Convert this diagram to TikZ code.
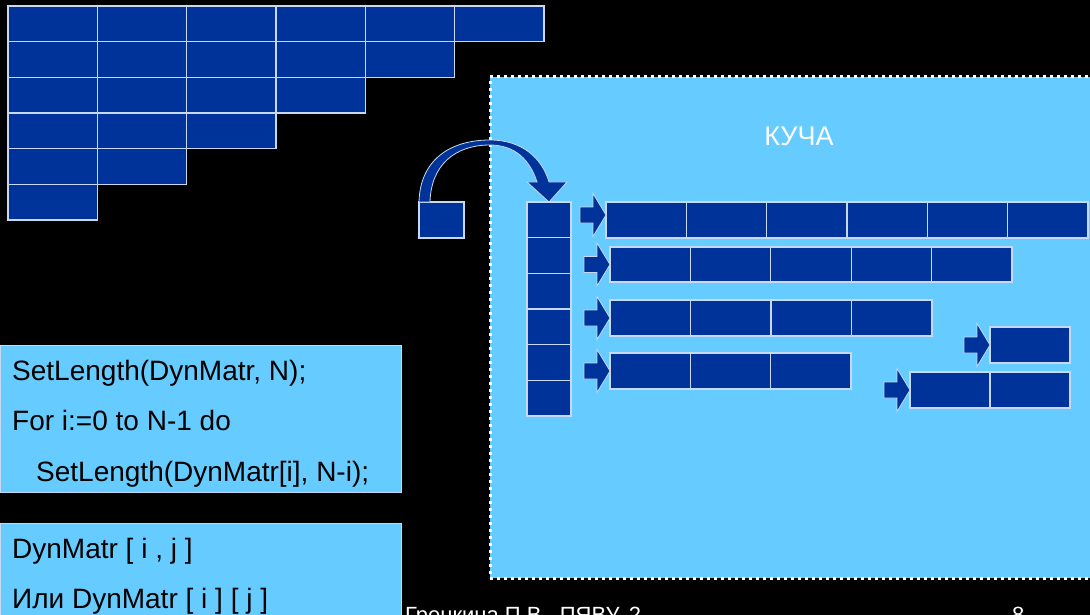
\documentclass[tikz,border=0pt]{standalone}
\usepackage{fontspec}
\setmainfont{Liberation Sans}
\usetikzlibrary{calc}
\definecolor{dblue}{HTML}{003399}
\definecolor{lblue}{HTML}{66CCFF}
\definecolor{cellline}{HTML}{C8D8F0}
\tikzset{
  cell/.style={draw=cellline, fill=dblue, line width=1.2pt, inner sep=0pt, outer sep=0pt},
  codebox/.style={draw=cellline, fill=lblue, line width=0.8pt, inner sep=0pt, outer sep=0pt, anchor=north west},
  codetext/.style={anchor=base west, inner sep=0pt, text=black, font=\fontsize{28}{32}\selectfont},
  heapbox/.style={fill=lblue, draw=white, line width=3pt, dash pattern=on 3pt off 4pt, inner sep=0pt, outer sep=0pt, anchor=north west},
  blockarrow/.pic={\fill[dblue, draw=cellline, line width=0.8pt] (-26,-8) -- (-13,-8) -- (-13,-21.5) -- (0,0) -- (-13,21.5) -- (-13,8) -- (-26,8) -- cycle;},
}
\begin{document}
\begin{tikzpicture}[x=1pt, y=-1pt]
\fill[black] (0,0) rectangle (1090,615);
\useasboundingbox (0,0) rectangle (1090,615);
% triangular grid
\foreach \r in {0,...,5} {
  \pgfmathtruncatemacro\n{5-\r}
  \foreach \c in {0,...,\n} {
    \node[cell, minimum width=89.33, minimum height=35.67] (g\r\c) at ({8+89.33*\c+44.67}, {6+35.67*\r+17.83}) {};
  }
}
% heap
\node[heapbox, minimum width=612, minimum height=501] (heap) at (490,77) {};
\node[text=white, font=\fontsize{27}{30}\selectfont, inner sep=0pt] (kucha) at (799,136) {КУЧА};
% pointer box
\node[cell, minimum width=45, minimum height=36] (ptr) at (441.5,220) {};
% column of row pointers
\foreach \r in {0,...,5} {
  \node[cell, minimum width=44, minimum height=35.67] (col\r) at (549, {202+35.67*\r+17.83}) {};
}
% curved arrow from ptr to column
\fill[dblue, draw=cellline, line width=0.8pt]
  (ptr.north west) .. controls (420,160) and (450,140) .. (490,140)
  .. controls (522,140) and (542,158) .. (549,182) -- (567,182) -- (col0.north) -- (527,182) -- (537,182)
  .. controls (530,160) and (515,145) .. (490,145)
  .. controls (455,145) and (431,165) .. ($(ptr.north west)+(11,0)$) -- cycle;
% rows in heap
\foreach \c in {0,...,5} {\node[cell, minimum width=80.33, minimum height=36] (a\c) at ({606+80.33*\c+40.17}, 220) {};}
\foreach \c in {0,...,4} {\node[cell, minimum width=80.4, minimum height=35] (b\c) at ({610+80.4*\c+40.2}, 264.5) {};}
\foreach \c in {0,...,3} {\node[cell, minimum width=80.5, minimum height=36] (c\c) at ({610+80.5*\c+40.25}, 318) {};}
\foreach \c in {0,...,2} {\node[cell, minimum width=80.33, minimum height=36] (d\c) at ({610+80.33*\c+40.17}, 371) {};}
\node[cell, minimum width=80, minimum height=36] (e0) at (1030,345) {};
\foreach \c in {0,...,1} {\node[cell, minimum width=80, minimum height=36] (f\c) at ({910+80*\c+40}, 390) {};}
% block arrows
\pic at ($(a0.west)+(0,-5)$) {blockarrow};
\pic at (b0.west) {blockarrow};
\pic at (c0.west) {blockarrow};
\pic at (d0.west) {blockarrow};
\pic at (e0.west) {blockarrow};
\pic at (f0.west) {blockarrow};
% code boxes
\node[codebox, minimum width=401, minimum height=147] (code1) at (0,345) {};
\node[codetext] (l1) at (12,380) {SetLength(DynMatr, N);};
\node[codetext] (l2) at (12,430) {For i:=0 to N-1 do};
\node[codetext] (l3) at (36,481) {SetLength(DynMatr[i], N-i);};
\node[codebox, minimum width=401, minimum height=100] (code2) at (0,523) {};
\node[codetext] (l4) at (12,558) {DynMatr [ i , j ]};
\node[codetext] (l5) at (12,608) {Или DynMatr [ i ] [ j ]};
% footer (cut off at the lower edge, as in the reference)
\node[anchor=base west, inner sep=0pt, text=white, font=\fontsize{22}{26}\selectfont] (foot) at (405,622) {Гренкина П.В., ПЯВУ, 2};
\node[anchor=base west, inner sep=0pt, text=white, font=\fontsize{22}{26}\selectfont] (page) at (1012,622) {8};
\end{tikzpicture}
\end{document}
